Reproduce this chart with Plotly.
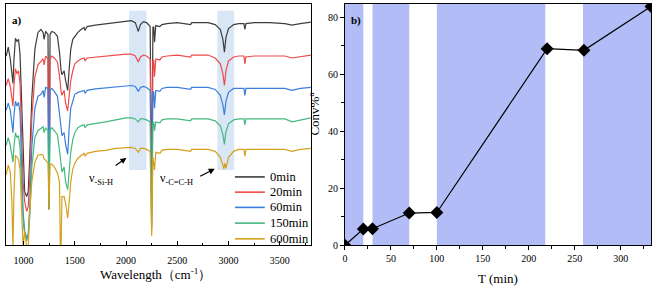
import plotly.graph_objects as go

# ---------------- Data: FTIR spectra (panel a) ----------------
wavenumber = [830, 850, 870, 885, 896, 905, 920, 935, 950, 965,
              985, 995, 1010, 1030, 1045, 1060, 1080, 1110, 1140, 1170,
              1190, 1200, 1215, 1238, 1248, 1258, 1275, 1300, 1330, 1350,
              1358, 1366, 1374, 1395, 1410, 1430, 1445, 1460, 1480, 1500,
              1530, 1560, 1590, 1600, 1620, 1700, 1800, 1900, 2000, 2050,
              2090, 2120, 2140, 2170, 2200, 2235, 2250, 2262, 2270, 2278,
              2290, 2330, 2350, 2400, 2500, 2630, 2640, 2700, 2800, 2870,
              2920, 2945, 2955, 2960, 2965, 2975, 3000, 3050, 3100, 3150,
              3160, 3170, 3250, 3400, 3550, 3620, 3700, 3805]

t_0min = [193, 202, 190, 172, 165, 188, 211, 208, 210, 195,
          130, 85, 55, 50, 55, 90, 150, 200, 217, 220,
          217, 210, 218, 215, 37, 215, 218, 217, 213, 197,
          185, 178, 174, 178, 168, 158, 180, 200, 210, 213,
          217, 220, 222, 219, 223, 224.5, 226, 227.5, 229, 229,
          227, 218, 225, 228, 227, 223, 50, 222, 223, 207,
          224, 223, 225, 226, 227, 225, 227, 227, 227, 225,
          220, 210, 200, 197, 202, 212, 221, 225, 226, 226,
          220, 226, 227, 227, 226, 224.5, 226, 227.5]

t_20min = [163, 170, 162, 150, 142, 162, 180, 175, 178, 165,
           100, 65, 45, 35, 40, 70, 130, 172, 184, 187,
           190, 184, 193, 190, 37, 190, 193, 191, 187, 173,
           162, 157, 153, 158, 145, 137, 153, 168, 178, 185,
           188, 190, 191, 188, 191, 192, 193, 194, 195, 195,
           193, 187, 192, 194, 193, 190, 40, 188, 189, 172,
           190, 189, 192, 193, 194, 192, 194, 194, 194, 191,
           185, 175, 166, 163, 168, 178, 188, 192, 193, 193,
           185, 192, 193, 193, 193, 191, 192, 194]

t_60min = [138, 145, 138, 125, 115, 132, 147, 142, 146, 135,
           70, 35, 15, 8, 12, 40, 100, 140, 152, 154,
           158, 151, 161, 160, 37, 158, 160, 157, 152, 137,
           128, 120, 112, 115, 103, 93, 120, 140, 147, 154,
           156, 157, 158, 155, 158, 159.5, 160.5, 161.5, 163, 163,
           162, 157, 161, 162, 161, 158, 20, 156, 157, 140,
           158, 157, 160, 161, 161, 159, 161, 161, 161, 159,
           153, 143, 136, 133, 138, 147, 156, 160, 160, 160,
           153, 160, 160, 160, 160, 158, 160, 161]

t_150min = [102, 110, 102, 92, 85, 100, 115, 110, 112, 100,
            50, 25, 12, 5, 10, 30, 80, 110, 117, 119,
            121, 115, 120, 117, 37, 118, 120, 117, 113, 97,
            87, 80, 75, 80, 65, 57, 75, 95, 108, 115,
            120, 122, 123, 120, 123, 124, 126, 128, 130, 130,
            129, 126, 129, 129, 128, 126, 15, 125, 126, 117,
            126, 125, 128, 129, 129, 127, 129, 129, 129, 127,
            122, 113, 106, 103, 108, 116, 124, 128, 129, 129,
            123, 129, 129, 129, 129, 126, 128, 130]

t_600min = [72, 82, 75, 45, -2, 50, 92, 90, 88, 78,
            25, -2, 15, -2, -2, 35, 65, 85, 92, 93,
            92, 88, 87, 84, 37, 83, 83, 80, 74, 65,
            0, -2, 50, 50, 43, 28, 45, 65, 78, 84,
            89, 92, 94, 91, 94, 96, 97, 99, 100, 100,
            99, 95, 99, 99, 98, 96, 10, 90, 84, 77,
            95, 94, 97, 98, 98, 96, 98, 98, 98, 96,
            90, 82, 78, 82, 84, 79, 90, 96, 98, 98,
            91, 98, 98, 98, 98, 96, 98, 99]

series_names = ["0min", "20min", "60min", "150min", "600min"]
series_colors = ["#3d3d3d", "#f04a4a", "#3b7fdc", "#45b87e", "#d6a11a"]

# shaded IR bands (cm-1)
ir_band_lo = [2029, 2891]
ir_band_hi = [2199, 3055]

# ---------------- Data: conversion vs time (panel b) ----------------
time_min = [0, 20, 30, 70, 100, 220, 260, 333]
conversion = [0, 5.7, 5.8, 11.3, 11.5, 69.0, 68.4, 83.8]
band_start = [0, 30, 100, 259]
band_end = [20, 70, 218, 333]

SERIF = "Liberation Serif, Times New Roman, serif"

fig = go.Figure()

spectra = [t_0min, t_20min, t_60min, t_150min, t_600min]
for name, col, ys in zip(series_names, series_colors, spectra):
    fig.add_trace(go.Scatter(x=wavenumber, y=ys, mode="lines", name=name,
                             line=dict(color=col, width=1.2), showlegend=False,
                             xaxis="x", yaxis="y"))

fig.add_trace(go.Scatter(x=time_min, y=conversion, mode="lines+markers",
                         showlegend=False,
                         line=dict(color="black", width=1.2),
                         marker=dict(symbol="diamond", size=10, color="black"),
                         xaxis="x2", yaxis="y2"))

W, H = 655, 292
def px(x):
    return x / W
def py(y):
    return 1 - y / H

shapes = []
for lo, hi in zip(ir_band_lo, ir_band_hi):
    shapes.append(dict(type="rect", xref="x", yref="y", x0=lo, x1=hi, y0=77, y1=239,
                       fillcolor="rgba(190,214,240,0.6)", line=dict(width=0), layer="below"))
for lo, hi in zip(band_start, band_end):
    shapes.append(dict(type="rect", xref="x2", yref="y2 domain", x0=lo, x1=hi, y0=0, y1=1,
                       fillcolor="rgb(178,189,247)", line=dict(width=0), layer="below"))

# manual legend (rows 16 px apart, as in the reference)
legend_rows = [180, 195.5, 211, 227, 243]
ann = []
for name, col, ry in zip(series_names, series_colors, legend_rows):
    shapes.append(dict(type="line", xref="paper", yref="paper",
                       x0=px(233), x1=px(263), y0=py(ry), y1=py(ry),
                       line=dict(color=col, width=1.6)))
    ann.append(dict(text=name, x=px(266), y=py(ry), xref="paper", yref="paper",
                    xanchor="left", yanchor="middle", showarrow=False,
                    font=dict(family=SERIF, size=12.5, color="black")))

ydom = [py(249.5), py(4)]

axis_common = dict(showline=True, linecolor="black", linewidth=1, mirror=True,
                   showgrid=False, zeroline=False,
                   tickfont=dict(family=SERIF, size=10, color="black"))

fig.update_layout(
    width=W, height=H,
    margin=dict(l=0, r=0, t=0, b=0),
    paper_bgcolor="white", plot_bgcolor="white",
    shapes=shapes,
    showlegend=False,
    xaxis=dict(domain=[px(2.7), px(309.3)], range=[825, 3804], anchor="y",
               tickvals=[1000, 1500, 2000, 2500, 3000, 3500],
               ticks="inside", ticklen=4, tickcolor="black",
               minor=dict(tickvals=[1250, 1750, 2250, 2750, 3250, 3750], ticks="inside",
                          ticklen=2.5, tickcolor="black"),
               ticklabelstandoff=6, **axis_common),
    yaxis=dict(domain=ydom, range=[0.5, 246], anchor="x",
               showticklabels=False, ticks="", **axis_common),
    xaxis2=dict(domain=[px(343.5), px(651)], range=[0, 333], anchor="y2",
                tickvals=[0, 50, 100, 150, 200, 250, 300],
                ticks="outside", ticklen=4, tickcolor="black",
                minor=dict(dtick=25, ticks="outside", ticklen=2.5, tickcolor="black"),
                **axis_common),
    yaxis2=dict(domain=ydom, range=[0, 84.7], anchor="x2",
                tickvals=[0, 20, 40, 60, 80],
                ticks="outside", ticklen=4, tickcolor="black",
                minor=dict(dtick=10, ticks="outside", ticklen=2.5, tickcolor="black"),
                **axis_common),
    font=dict(family=SERIF, color="black"),
)

ann.append(dict(text="<b>a)</b>", x=px(7), y=py(21), xref="paper", yref="paper",
                xanchor="left", yanchor="middle", showarrow=False,
                font=dict(family=SERIF, size=11, color="black")))
ann.append(dict(text="<b>b)</b>", x=px(348), y=py(21), xref="paper", yref="paper",
                xanchor="left", yanchor="middle", showarrow=False,
                font=dict(family=SERIF, size=11, color="black")))
ann.append(dict(text="Wavelength（cm<sup>-1</sup>）", x=px(153), y=py(278.5),
                xref="paper", yref="paper", xanchor="center", yanchor="middle",
                showarrow=False, font=dict(family=SERIF, size=13, color="black")))
ann.append(dict(text="T (min)", x=px(497), y=py(283), xref="paper", yref="paper",
                xanchor="center", yanchor="middle", showarrow=False,
                font=dict(family=SERIF, size=13, color="black")))
ann.append(dict(text="Conv%<sup>a</sup>", x=px(312), y=py(116), xref="paper", yref="paper",
                xanchor="center", yanchor="middle", textangle=-90, showarrow=False,
                font=dict(family=SERIF, size=13, color="black")))
ann.append(dict(text="ν<sub>-Si-H</sub>", x=px(84), y=py(182), xref="paper", yref="paper",
                xanchor="left", yanchor="middle", showarrow=False,
                font=dict(family=SERIF, size=12, color="black")))
ann.append(dict(text="ν<sub>-C=C-H</sub>", x=px(156), y=py(182), xref="paper", yref="paper",
                xanchor="left", yanchor="middle", showarrow=False,
                font=dict(family=SERIF, size=12, color="black")))
ann.append(dict(text="", x=px(124), y=py(160.7), xref="paper", yref="paper",
                ax=-12.3, ay=8.6, showarrow=True, arrowhead=2, arrowsize=1,
                arrowwidth=1.2, arrowcolor="black"))
ann.append(dict(text="", x=px(212.7), y=py(171.7), xref="paper", yref="paper",
                ax=-16, ay=8.3, showarrow=True, arrowhead=2, arrowsize=1,
                arrowwidth=1.2, arrowcolor="black"))
fig.update_layout(annotations=ann)

fig.write_html("out.html", config={"displayModeBar": False},
               post_script="document.body.style.margin='0px';document.body.style.overflow='hidden';")
